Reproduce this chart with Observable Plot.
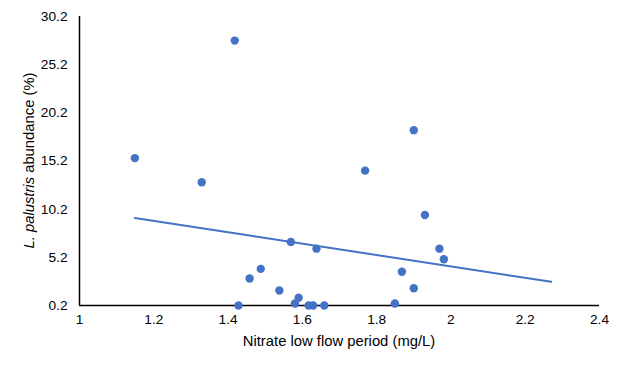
<!DOCTYPE html>
<html>
<head>
<meta charset="utf-8">
<script src="https://cdn.jsdelivr.net/npm/d3@7"></script>
<script src="https://cdn.jsdelivr.net/npm/@observablehq/plot@0.6"></script>
<style>
  html, body { margin: 0; padding: 0; background: #fff; }
  #chart svg { display: block; }
</style>
</head>
<body>
<div id="chart"></div>
<script>
// Nitrate concentration during low flow period (mg/L)
const nitrate = [1.149, 1.329, 1.418, 1.428, 1.458, 1.488, 1.538, 1.569, 1.58, 1.59, 1.617,
                 1.629, 1.638, 1.659, 1.769, 1.849, 1.868, 1.90, 1.90, 1.93, 1.969, 1.981];
// L. palustris abundance (%)
const abundance = [15.5, 13.0, 27.7, 0.2, 3.0, 4.0, 1.75, 6.8, 0.4, 1.0, 0.2,
                   0.2, 6.1, 0.2, 14.2, 0.4, 3.7, 18.4, 2.0, 9.6, 6.1, 5.0];
// Trendline extent (x) as drawn in the reference
const trendRange = [1.149, 2.27];
const xTicks = [1, 1.2, 1.4, 1.6, 1.8, 2, 2.2, 2.4];
const yTicks = [0.2, 5.2, 10.2, 15.2, 20.2, 25.2, 30.2];

const points = nitrate.map((x, i) => ({x, y: abundance[i]}));

// least squares linear fit
const mx = d3.mean(nitrate), my = d3.mean(abundance);
const slope = d3.sum(points, d => (d.x - mx) * (d.y - my)) / d3.sum(points, d => (d.x - mx) ** 2);
const intercept = my - slope * mx;
const trend = trendRange.map(x => ({x, y: intercept + slope * x}));

const blue = "#4472C4";
const plot = Plot.plot({
  width: 625,
  height: 369,
  marginLeft: 79,
  marginRight: 26,
  marginTop: 16,
  marginBottom: 64,
  style: {fontFamily: "'Liberation Sans', Arial, sans-serif", fontSize: "13.7px", color: "#000", background: "#fff"},
  x: {domain: [1, 2.4], ticks: xTicks, tickSize: 0, tickPadding: 9, tickFormat: d => String(d), label: null},
  y: {domain: [0.2, 30.2], ticks: yTicks, tickSize: 0, tickPadding: 12, tickFormat: d => d.toFixed(1), label: null},
  marks: [
    Plot.ruleX([1], {stroke: "#000", strokeWidth: 1.5}),
    Plot.ruleY([0.2], {stroke: "#000", strokeWidth: 1.5}),
    Plot.line(trend, {x: "x", y: "y", stroke: blue, strokeWidth: 2}),
    Plot.dot(points, {x: "x", y: "y", r: 4.2, fill: blue, stroke: "none"})
  ]
});

const svg = d3.select(plot);
// x-axis title
svg.append("text")
  .attr("x", 339).attr("y", 342)
  .attr("text-anchor", "middle").attr("dominant-baseline", "middle")
  .attr("font-size", 14.8).attr("fill", "#000")
  .text("Nitrate low flow period (mg/L)");
// y-axis title with italic species name
const yl = svg.append("text")
  .attr("transform", "translate(30,160.5) rotate(-90)")
  .attr("text-anchor", "middle").attr("dominant-baseline", "middle")
  .attr("font-size", 14.8).attr("fill", "#000");
yl.append("tspan").attr("font-style", "italic").text("L. palustris");
yl.append("tspan").text(" abundance (%)");

document.getElementById("chart").append(plot);
</script>
</body>
</html>
